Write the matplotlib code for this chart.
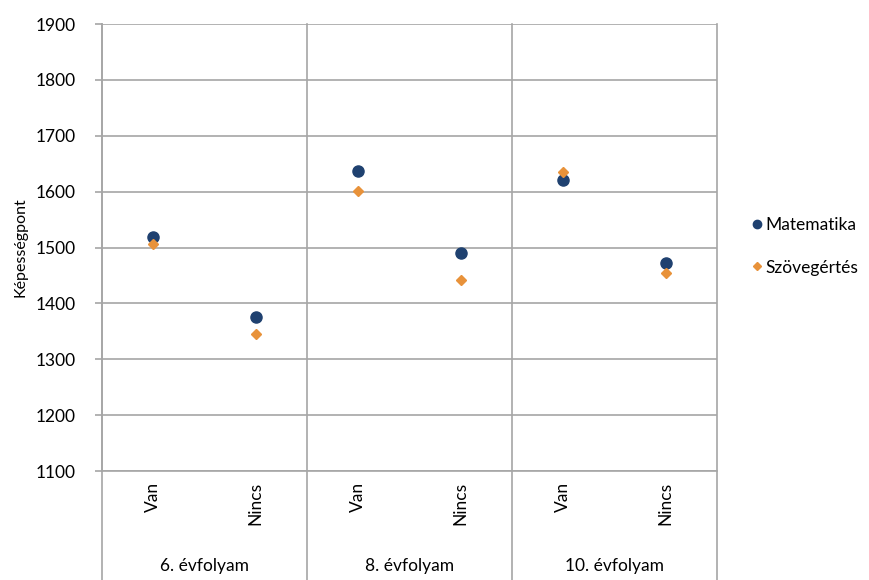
import matplotlib.pyplot as plt
import matplotlib.transforms as mtransforms

plt.rcParams['font.family'] = ['Lato', 'DejaVu Sans']

groups = ['6. évfolyam', '8. évfolyam', '10. évfolyam']
subcats = ['Van', 'Nincs', 'Van', 'Nincs', 'Van', 'Nincs']
matematika = [1518, 1375, 1637, 1491, 1621, 1472]
szovegertes = [1507, 1346, 1601, 1442, 1635, 1454]
yticks = [1100, 1200, 1300, 1400, 1500, 1600, 1700, 1800, 1900]

navy = '#1F4170'
orange = '#E8923A'
grid = '#A6A6A6'

fig = plt.figure(figsize=(8.69, 5.80), dpi=100)
ax = fig.add_axes([0.1174, 0.1879, 0.7077, 0.7707])

xs = [i + 0.5 for i in range(len(subcats))]
ax.plot(xs, matematika, 'o', color=navy, ms=8, zorder=3, label='Matematika')
ax.plot(xs, szovegertes, 'D', color=orange, ms=5.5, zorder=4, label='Szövegértés')

ax.set_xlim(0, 6)
ax.set_ylim(1100, 1900)
ax.set_yticks(yticks)
ax.set_yticklabels([str(v) for v in yticks], fontsize=12.5)
ax.tick_params(axis='y', length=5, color=grid, width=1.2, pad=14)
ax.tick_params(axis='x', length=0, labelbottom=False)
ax.yaxis.grid(True, color=grid, lw=1.2)
ax.set_axisbelow(True)
for s in ['top', 'right']:
    ax.spines[s].set_visible(False)
ax.spines['left'].set_color(grid)
ax.spines['left'].set_linewidth(1.2)
ax.spines['bottom'].set_color(grid)
ax.spines['bottom'].set_linewidth(1.2)

ax.set_ylabel('Képességpont', fontsize=11.5, labelpad=6)

trans = mtransforms.blended_transform_factory(ax.transData, ax.transAxes)
ybot = -0.1879 / 0.7707
for x in [0, 2, 4, 6]:
    ax.plot([x, x], [ybot, 1], color=grid, lw=1.2, transform=trans, clip_on=False, zorder=1)

for x, lab in zip(xs, subcats):
    ax.text(x, -0.025, lab, rotation=90, ha='center', va='top', fontsize=12.5, transform=trans)
for i, g in enumerate(groups):
    ax.text(2 * i + 1, -0.212, g, ha='center', va='center', fontsize=12.5, transform=trans)

leg = fig.legend(loc='center left', bbox_to_anchor=(0.843, 0.575), frameon=False,
                 fontsize=12.5, handletextpad=0.0, labelspacing=1.5, handlelength=1.0,
                 markerscale=0.75)

fig.savefig('out.png', dpi=100)
